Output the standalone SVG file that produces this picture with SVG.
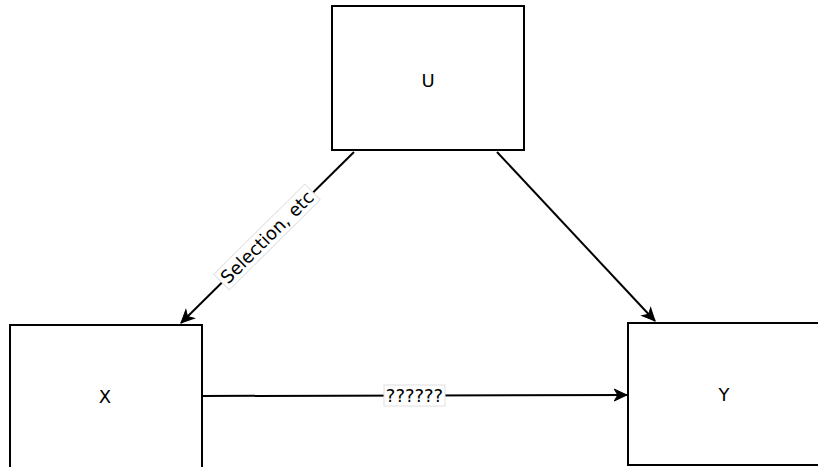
<svg xmlns="http://www.w3.org/2000/svg" width="818" height="467" viewBox="0 0 818 467">
<style>
.box{fill:#fff;stroke:#000;stroke-width:2}
.t{font-family:"DejaVu Sans",Verdana,sans-serif;font-size:18px;fill:#000;text-anchor:middle;dominant-baseline:central}
.e{fill:none;stroke:#000;stroke-width:2}
.lb{fill:#fff;stroke:#e0e0e0;stroke-width:1}
</style>
<defs>
<marker id="ah" viewBox="0 0 20 20" refX="18" refY="10" markerWidth="16" markerHeight="16" markerUnits="userSpaceOnUse" orient="auto">
<path d="M2,2.5 L18,10 L2,17.5 L6.5,10 Z" fill="#000" stroke="#000" stroke-width="1.2" stroke-linejoin="miter"/>
</marker>
</defs>
<rect width="818" height="467" fill="#fff"/>
<g id="U"><rect class="box" x="332" y="6" width="192" height="144"/><text class="t" x="428" y="80">U</text></g>
<g id="X"><rect class="box" x="10" y="325" width="192" height="150"/><text class="t" x="105" y="396">X</text></g>
<g id="Y"><rect class="box" x="628" y="323" width="200" height="142"/><text class="t" x="724" y="394">Y</text></g>
<g id="connectors">
<line class="e" x1="354" y1="152" x2="181" y2="323" marker-end="url(#ah)"/>
<line class="e" x1="497" y1="152" x2="655" y2="321" marker-end="url(#ah)"/>
<line class="e" x1="202" y1="396" x2="627" y2="395" marker-end="url(#ah)"/>
<g transform="translate(267,237) rotate(-44.7)">
<rect class="lb" x="-64" y="-11" width="128" height="22"/>
<text class="t" x="0" y="0">Selection, etc</text>
</g>
<rect class="lb" x="384" y="385" width="61" height="21"/>
<text class="t" x="414.5" y="395.5">??????</text>
</g>
</svg>
